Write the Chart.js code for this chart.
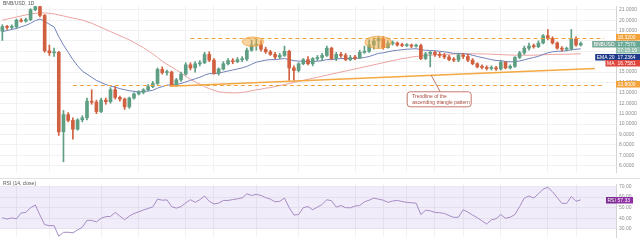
<!DOCTYPE html>
<html><head><meta charset="utf-8">
<script src="https://cdn.jsdelivr.net/npm/chart.js@4/dist/chart.umd.min.js"></script>
<style>
html,body{margin:0;padding:0;background:#fff;width:640px;height:243px;overflow:hidden}
#c1{position:absolute;left:0;top:0}
#c2{position:absolute;left:0;top:178px}
</style></head><body>
<canvas id="c1" width="640" height="178"></canvas>
<canvas id="c2" width="640" height="65"></canvas>
<script>
// ---------- data ----------
const opens  = [18.94,19.38,19.30,19.36,20.00,19.90,20.05,21.00,21.30,20.45,17.05,16.85,16.90,9.25,10.90,10.35,9.50,10.40,10.60,12.20,12.10,11.20,12.30,12.15,13.30,12.56,12.40,11.65,12.50,12.90,13.05,13.30,13.60,13.90,15.25,14.95,15.00,13.75,14.25,14.80,15.70,15.40,15.80,15.90,16.70,16.15,14.90,15.30,15.80,16.10,16.00,16.20,16.25,17.10,17.60,17.65,17.20,16.95,16.70,16.45,16.60,17.00,15.40,15.15,15.80,16.20,15.80,16.30,16.40,16.60,17.30,16.30,16.70,16.60,16.20,16.40,16.35,16.90,17.00,17.60,18.00,18.20,17.35,17.75,17.80,17.60,17.55,17.60,17.50,17.55,16.30,16.75,16.90,16.70,16.60,16.45,16.20,16.15,16.65,16.50,16.15,15.80,15.50,15.45,15.35,15.40,15.30,15.95,15.40,15.55,16.40,16.85,17.30,17.50,17.45,17.80,18.50,18.25,17.80,17.30,17.20,17.25,18.20,17.60];
const highs  = [19.56,19.50,19.55,20.10,20.15,20.20,21.10,21.50,21.50,20.55,17.60,17.30,17.00,11.30,11.10,10.60,10.50,10.80,12.50,13.30,12.30,12.50,12.50,13.50,13.60,12.70,12.50,12.60,13.00,13.20,13.40,13.80,14.10,15.40,15.50,15.20,15.10,14.40,15.00,15.90,15.90,16.00,16.10,16.90,16.95,16.30,15.40,16.00,16.30,16.30,16.40,16.50,17.30,18.10,18.20,18.00,17.40,17.10,16.90,16.80,17.50,17.10,15.60,15.90,16.30,16.50,16.40,16.60,16.80,17.50,17.40,16.90,16.90,16.80,16.60,16.60,17.10,17.50,18.10,18.30,18.40,18.40,18.00,18.00,17.90,17.80,17.75,17.70,17.70,17.70,16.90,17.00,17.00,16.90,16.80,16.60,16.40,16.80,16.80,16.70,16.30,15.90,15.70,15.60,15.60,15.55,16.10,16.00,15.70,16.50,17.00,17.50,17.80,17.70,18.00,18.60,19.10,18.40,17.90,17.45,17.40,19.10,18.40,17.90];
const lows   = [18.04,19.10,19.15,19.20,19.80,19.80,19.95,20.90,20.30,16.90,16.60,16.50,8.90,6.36,10.20,8.55,9.40,10.20,10.40,11.90,11.00,11.10,11.90,12.00,12.40,12.20,11.40,11.50,12.40,12.80,12.90,13.20,13.50,13.80,14.80,14.70,13.60,13.60,14.10,14.70,15.20,15.00,15.60,15.80,16.00,14.80,14.70,15.20,15.70,15.80,15.90,16.00,16.10,17.00,17.10,17.00,16.80,16.60,16.30,16.30,16.50,14.20,14.20,15.00,15.70,15.70,15.60,16.10,16.10,16.50,16.20,16.10,16.40,16.10,16.10,16.20,16.30,16.80,16.90,17.20,17.30,17.20,17.30,17.60,17.50,17.45,17.45,17.35,17.40,16.20,16.20,15.50,16.50,16.40,16.30,16.10,16.00,16.00,16.30,16.00,15.70,15.40,15.30,15.20,15.20,15.15,15.20,15.30,15.30,15.45,16.30,16.70,17.10,17.30,17.35,17.70,18.10,17.70,17.20,17.00,17.05,17.10,17.50,17.50];
const closes = [19.38,19.30,19.36,20.00,19.90,20.05,21.00,21.30,20.45,17.05,16.85,16.90,9.25,10.90,10.35,9.50,10.40,10.60,12.20,12.10,11.20,12.30,12.15,13.30,12.56,12.40,11.65,12.50,12.90,13.05,13.30,13.60,13.90,15.25,14.95,15.00,13.75,14.25,14.80,15.70,15.40,15.80,15.90,16.70,16.15,14.90,15.30,15.80,16.10,16.00,16.20,16.25,17.10,17.60,17.65,17.20,16.95,16.70,16.45,16.60,17.00,15.40,15.15,15.80,16.20,15.80,16.30,16.40,16.60,17.30,16.30,16.70,16.60,16.20,16.40,16.35,16.90,17.00,17.60,18.00,18.20,17.35,17.75,17.80,17.60,17.55,17.60,17.50,17.55,16.30,16.75,16.90,16.70,16.60,16.45,16.20,16.15,16.65,16.50,16.15,15.80,15.50,15.45,15.35,15.40,15.30,15.95,15.40,15.55,16.40,16.85,17.30,17.50,17.45,17.80,18.50,18.25,17.80,17.30,17.20,17.25,18.20,17.60,17.757];
const ema20  = [18.9,19.0,19.1,19.2,19.35,19.5,19.7,19.95,20.1,19.9,19.6,19.35,18.4,17.6,16.9,16.2,15.6,15.1,14.8,14.5,14.2,14.0,13.8,13.65,13.55,13.4,13.3,13.2,13.15,13.1,13.12,13.17,13.25,13.45,13.6,13.75,13.75,13.8,13.9,14.05,14.2,14.35,14.5,14.7,14.85,14.85,14.9,15.0,15.1,15.2,15.3,15.4,15.55,15.75,15.95,16.05,16.15,16.2,16.2,16.25,16.3,16.2,16.1,16.05,16.05,16.0,16.0,16.05,16.1,16.2,16.2,16.25,16.3,16.3,16.3,16.3,16.35,16.4,16.5,16.65,16.8,16.85,16.95,17.05,17.1,17.15,17.2,17.22,17.25,17.15,17.1,17.08,17.05,17.0,16.95,16.88,16.8,16.8,16.78,16.72,16.62,16.5,16.4,16.3,16.2,16.12,16.1,16.02,15.98,16.0,16.07,16.18,16.3,16.4,16.52,16.7,16.85,16.95,17.0,17.02,17.05,17.15,17.2,17.2364];
const sma50  = [20.0,20.1,20.2,20.3,20.4,20.5,20.6,20.65,20.7,20.7,20.65,20.6,20.5,20.4,20.3,20.2,20.1,20.0,19.85,19.7,19.5,19.3,19.1,18.9,18.7,18.5,18.3,18.1,17.85,17.6,17.35,17.05,16.75,16.4,16.05,15.75,15.5,15.2,14.9,14.6,14.3,14.05,13.85,13.6,13.4,13.25,13.1,13.05,13.0,13.0,13.0,13.05,13.1,13.2,13.3,13.35,13.45,13.5,13.6,13.7,13.8,13.9,14.0,14.1,14.2,14.3,14.4,14.5,14.6,14.7,14.8,14.9,15.0,15.1,15.2,15.3,15.4,15.5,15.6,15.7,15.8,15.9,16.0,16.1,16.2,16.3,16.35,16.45,16.5,16.55,16.6,16.62,16.65,16.68,16.7,16.72,16.73,16.75,16.76,16.77,16.77,16.76,16.75,16.74,16.72,16.7,16.68,16.66,16.64,16.63,16.62,16.62,16.62,16.63,16.64,16.66,16.68,16.7,16.71,16.71,16.72,16.73,16.745,16.7581];
const rsi14  = [40.5,39.2,40.3,39.5,45,45.5,50,52.5,43,34,33,33,23,26.7,26.8,26.2,29,31.5,38,38,36.5,40,41.5,41.7,45.5,42,38.6,42,44.5,46,47.8,49.2,50.8,58,57,57.3,51,49.5,51,54.5,57.5,55,57.5,61,56,53.5,54.3,56.8,56.8,57.6,58.3,59.2,63,61.5,62.5,61.5,59.5,58,55.5,56,59,50,43,43.5,50,51,48,50.5,53,57.5,56.5,50.5,52,50,49.8,51.5,52,55.5,57,59,58,57,55,56.2,56.8,55.8,55,54.6,54.2,43.5,47.5,47,45.5,45.2,44.5,42.5,40.8,41,48,45.8,43,40.5,37.5,34.5,38.5,39.5,43.5,40,41,43.5,51,59,61,59,63,67.5,69.2,65,59.5,54,54,60.5,56,57.33];
const priceTicks = [6,7,8,9,10,11,12,13,14,15,16,17,18,19,20,21];
const rsiTicks = [30,40,50,60,70];
const levels = [18.32, 13.80];
const levelFrom = [40, 15];
const levelTo = [128, 128];
const trendX = [35.6, 126];
const trendY = [13.64, 15.34];
const hlFrom = [51, 77.1], hlTo = [55.6, 82.8], hlLo = [17.47, 17.26], hlHi = [18.37, 18.46];
const noteText = ['Trendline of the', 'ascending triangle pattern'];
const noteBox = [92.9, 13.1];
const noteTarget = [91.2, 14.69];
const gridIdx = [3, 10, 21, 29, 39, 45, 54, 63, 75, 81, 86, 92, 98, 106, 116, 122];
const title = 'BNB/USD, 1D';
const rsiTitle = 'RSI (14, close)';
const SLOTS = 131;
const labels = Array.from({length: SLOTS}, (_, i) => 'D' + (i + 1));

const UP = '#5e9f84', DOWN = '#d0603f';
const candleColors = opens.map((o, i) => closes[i] >= o ? UP : DOWN);
const FONT = 'Liberation Sans';
Chart.defaults.font.family = FONT;
Chart.defaults.animation = false;

function xScale() {
  return {
    offset: true,
    grid: {offset: false, color: '#f1f1f1', drawTicks: false},
    border: {display: false},
    ticks: {display: false},
    afterBuildTicks: s => { s.ticks = gridIdx.map(v => ({value: v})); },
    afterFit: s => { s.height = 0; }
  };
}

function tagBox(ctx, x0, yc, w, h, bg, txt, col) {
  ctx.fillStyle = bg;
  ctx.fillRect(x0, Math.round(yc - h / 2), w, h);
  ctx.fillStyle = col || '#fff';
  ctx.textBaseline = 'middle';
  ctx.textAlign = 'left';
  ctx.fillText(txt, x0 + 1.5, yc + 0.3);
}

const mainDecor = {
  id: 'mainDecor',
  afterDatasetsDraw(chart) {
    const {ctx, scales: {x, y}} = chart;
    ctx.save();
    // dashed horizontal levels
    ctx.setLineDash([4, 3]);
    ctx.strokeStyle = '#f1a23c';
    ctx.lineWidth = 1;
    levels.forEach((lv, k) => {
      const yy = Math.round(y.getPixelForValue(lv)) + 0.5;
      ctx.beginPath();
      ctx.moveTo(x.getPixelForValue(levelFrom[k]), yy);
      ctx.lineTo(x.getPixelForValue(levelTo[k]), yy);
      ctx.stroke();
    });
    ctx.setLineDash([]);
    // ascending trendline
    ctx.strokeStyle = '#f3a842';
    ctx.lineWidth = 1.4;
    ctx.beginPath();
    ctx.moveTo(x.getPixelForValue(trendX[0]), y.getPixelForValue(trendY[0]));
    ctx.lineTo(x.getPixelForValue(trendX[1]), y.getPixelForValue(trendY[1]));
    ctx.stroke();
    // highlight ellipses
    hlFrom.forEach((f, k) => {
      const x0 = x.getPixelForValue(f), x1 = x.getPixelForValue(hlTo[k]);
      const y0 = y.getPixelForValue(hlHi[k]), y1 = y.getPixelForValue(hlLo[k]);
      ctx.beginPath();
      ctx.ellipse((x0 + x1) / 2, (y0 + y1) / 2, (x1 - x0) / 2, (y1 - y0) / 2, 0, 0, Math.PI * 2);
      ctx.fillStyle = 'rgba(246,172,70,0.5)';
      ctx.fill();
      ctx.strokeStyle = 'rgba(238,160,60,0.9)';
      ctx.lineWidth = 0.8;
      ctx.stroke();
    });
    // callout
    const bx = x.getPixelForValue(noteBox[0]), by = y.getPixelForValue(noteBox[1]);
    const tx = x.getPixelForValue(noteTarget[0]), ty = y.getPixelForValue(noteTarget[1]);
    const bw = 64, bh = 15;
    ctx.strokeStyle = '#b5574a';
    ctx.lineWidth = 0.8;
    ctx.beginPath();
    ctx.moveTo(tx, ty);
    ctx.lineTo(bx + 1, by);
    ctx.stroke();
    ctx.beginPath();
    ctx.roundRect(bx - bw / 2, by, bw, bh, 3);
    ctx.fillStyle = '#fff';
    ctx.fill();
    ctx.stroke();
    ctx.fillStyle = '#a8483c';
    ctx.font = '5px ' + FONT;
    ctx.textAlign = 'left';
    ctx.textBaseline = 'middle';
    ctx.fillText(noteText[0], bx - bw / 2 + 5, by + 4.5);
    ctx.fillText(noteText[1], bx - bw / 2 + 5, by + 10.5);
    ctx.restore();
  },
  afterDraw(chart) {
    const {ctx, scales: {y}, chartArea: a} = chart;
    ctx.save();
    ctx.font = '5px ' + FONT;
    const ax = a.right;
    const h = 6.5;
    // stacked right-axis labels
    const items = [
      {v: levels[0], bg: '#f3a23a', txt: levels[0].toFixed(4)},
      {v: closes[closes.length - 1], bg: '#67a894', txt: closes[closes.length - 1].toFixed(4), tag: 'BNBUSD', tagBg: '#7aa99a', sub: '07:15:19'},
      {v: ema20[ema20.length - 1], bg: '#1f3a8a', txt: ema20[ema20.length - 1].toFixed(4), tag: 'EMA 20', tagBg: '#1f3a8a'},
      {v: sma50[sma50.length - 1], bg: '#e0463c', txt: sma50[sma50.length - 1].toFixed(4), tag: 'MA', tagBg: '#e0463c'},
      {v: levels[1], bg: '#f3a23a', txt: levels[1].toFixed(4)}
    ];
    let last = -100;
    items.forEach(it => {
      let yc = y.getPixelForValue(it.v);
      if (yc < last + h) yc = last + h;
      tagBox(ctx, ax, yc, 640 - ax, h, it.bg, it.txt);
      if (it.tag) {
        const tw = ctx.measureText(it.tag).width + 3;
        tagBox(ctx, ax - tw, yc, tw, h, it.tagBg, it.tag);
      }
      last = yc;
      if (it.sub) {
        last = yc + h;
        tagBox(ctx, ax, last, 640 - ax, h, '#8fbcad', it.sub);
      }
    });
    // title
    ctx.fillStyle = '#555';
    ctx.textAlign = 'left';
    ctx.textBaseline = 'middle';
    ctx.fillText(title, 3, 4);
    ctx.restore();
  }
};

new Chart(document.getElementById('c1'), {
  type: 'bar',
  data: {
    labels,
    datasets: [
      {type: 'line', label: 'MA 50', data: sma50, borderColor: '#eba3a0', borderWidth: 1, pointRadius: 0, order: 3},
      {type: 'line', label: 'EMA 20', data: ema20, borderColor: '#7282bb', borderWidth: 1, pointRadius: 0, order: 2},
      {label: 'wick', data: lows.map((l, i) => [l, highs[i]]), backgroundColor: candleColors, barThickness: 1, grouped: false, order: 1},
      {label: 'body', data: opens.map((o, i) => [o, closes[i]]), backgroundColor: candleColors, barThickness: 3, minBarLength: 1, grouped: false, order: 0}
    ]
  },
  options: {
    responsive: false,
    devicePixelRatio: 1,
    layout: {padding: 0},
    plugins: {legend: {display: false}, tooltip: {enabled: false}},
    scales: {
      x: xScale(),
      y: {
        position: 'right',
        min: 5.38, max: 21.36,
        afterBuildTicks: s => { s.ticks = priceTicks.map(v => ({value: v})); },
        afterFit: s => { s.width = 24; },
        grid: {color: '#f1f1f1', drawTicks: false},
        border: {color: '#d4d4d4'},
        ticks: {font: {size: 5}, color: '#8c8c8c', padding: 3, callback: v => Number(v).toFixed(4)}
      }
    }
  },
  plugins: [mainDecor]
});

const rsiDecor = {
  id: 'rsiDecor',
  beforeDatasetsDraw(chart) {
    const {ctx, scales: {y}, chartArea: a} = chart;
    ctx.save();
    const y70 = y.getPixelForValue(rsiTicks[4]), y30 = y.getPixelForValue(rsiTicks[0]);
    ctx.fillStyle = 'rgba(150,110,210,0.13)';
    ctx.fillRect(a.left, y70, a.right - a.left, y30 - y70);
    ctx.restore();
  },
  afterDraw(chart) {
    const {ctx, scales: {y}, chartArea: a} = chart;
    ctx.save();
    // separator line
    ctx.strokeStyle = '#e2e2e2';
    ctx.lineWidth = 1;
    ctx.beginPath();
    ctx.moveTo(0, 0.5);
    ctx.lineTo(640, 0.5);
    ctx.stroke();
    ctx.font = '5px ' + FONT;
    ctx.fillStyle = '#555';
    ctx.textAlign = 'left';
    ctx.textBaseline = 'middle';
    ctx.fillText(rsiTitle, 3, 6);
    const v = rsi14[rsi14.length - 1];
    const yc = y.getPixelForValue(v);
    tagBox(ctx, a.right - 10, yc, 10, 6.5, '#7b2a8f', 'RSI');
    tagBox(ctx, a.right, yc, 17, 6.5, '#8e2fa3', v.toFixed(2));
    ctx.restore();
  }
};

new Chart(document.getElementById('c2'), {
  type: 'line',
  data: {
    labels,
    datasets: [
      {label: 'RSI', data: rsi14, borderColor: '#a58cc4', borderWidth: 1, pointRadius: 0}
    ]
  },
  options: {
    responsive: false,
    devicePixelRatio: 1,
    layout: {padding: 0},
    plugins: {legend: {display: false}, tooltip: {enabled: false}},
    scales: {
      x: xScale(),
      y: {
        position: 'right',
        min: 22.3, max: 72.3,
        afterBuildTicks: s => { s.ticks = rsiTicks.map(v => ({value: v})); },
        afterFit: s => { s.width = 24; },
        grid: {color: '#f1f1f1', drawTicks: false},
        border: {color: '#d4d4d4'},
        ticks: {font: {size: 5}, color: '#8c8c8c', padding: 3, callback: v => Number(v).toFixed(2)}
      }
    }
  },
  plugins: [rsiDecor]
});
</script>
</body></html>
